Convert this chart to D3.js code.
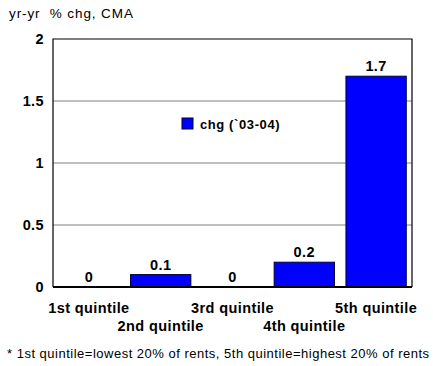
<!DOCTYPE html>
<html>
<head>
<meta charset="utf-8">
<script src="https://cdn.jsdelivr.net/npm/d3@7"></script>
<style>
  body { margin: 0; background: #fff; }
  svg { display: block; font-family: "Liberation Sans", Arial, sans-serif; }
  .bold { font-weight: bold; font-size: 14.5px; letter-spacing: 0.4px; }
  .plain { font-size: 13px; letter-spacing: 0.5px; }
</style>
</head>
<body>
<svg id="chart" width="433" height="366"></svg>
<script>
const categories = ["1st quintile", "2nd quintile", "3rd quintile", "4th quintile", "5th quintile"];
const values = [0, 0.1, 0, 0.2, 1.7];
const valueLabels = ["0", "0.1", "0", "0.2", "1.7"];
const yTicks = [0, 0.5, 1, 1.5, 2];
const yTickLabels = ["0", "0.5", "1", "1.5", "2"];
const seriesName = "chg (`03-04)";

const svg = d3.select("#chart");
const m = { left: 53, right: 412, top: 39, bottom: 287 };

const x = d3.scaleBand().domain(categories).range([m.left, m.right]).paddingInner(0.16).paddingOuter(0.08);
const y = d3.scaleLinear().domain([0, 2]).range([m.bottom, m.top]);

// title
svg.append("text").attr("x", 9).attr("y", 18).attr("fill", "#000")
  .attr("font-size", 13.5).attr("letter-spacing", 0.9)
  .style("white-space", "pre")
  .text("yr-yr  % chg, CMA");

// gridlines
svg.append("g").selectAll("line").data(yTicks.filter(d => d > 0 && d < 2)).join("line")
  .attr("x1", m.left).attr("x2", m.right)
  .attr("y1", d => y(d)).attr("y2", d => y(d))
  .attr("stroke", "#808080").attr("stroke-width", 1);

// y axis labels
const yAxis = d3.axisLeft(y).tickValues(yTicks).tickFormat((d, i) => yTickLabels[i]).tickSize(0).tickPadding(9);
const gy = svg.append("g").attr("transform", `translate(${m.left},0)`).call(yAxis)
  .attr("font-family", null).attr("font-size", null);
gy.select(".domain").remove();
gy.selectAll("text").attr("class", "bold").attr("font-weight", "bold").attr("fill", "#000");

// bars
svg.append("g").selectAll("rect").data(values).join("rect")
  .attr("x", (d, i) => x(categories[i]))
  .attr("width", x.bandwidth())
  .attr("y", d => y(d))
  .attr("height", d => y(0) - y(d))
  .attr("fill", "#0000ff")
  .attr("stroke", "#000033").attr("stroke-width", 1);

// value labels
svg.append("g").selectAll("text").data(values).join("text")
  .attr("class", "bold")
  .attr("x", (d, i) => x(categories[i]) + x.bandwidth() / 2)
  .attr("y", d => y(d) - 5)
  .attr("text-anchor", "middle")
  .text((d, i) => valueLabels[i]);

// frame
svg.append("path")
  .attr("d", `M${m.left},${m.bottom}V${m.top}H${m.right}V${m.bottom}`)
  .attr("fill", "none").attr("stroke", "#000").attr("stroke-width", 1.2);
svg.append("line").attr("x1", m.left).attr("x2", m.right).attr("y1", m.bottom).attr("y2", m.bottom)
  .attr("stroke", "#000").attr("stroke-width", 2);

// category labels, staggered over two rows
svg.append("g").selectAll("text").data(categories).join("text")
  .attr("class", "bold")
  .attr("x", d => x(d) + x.bandwidth() / 2)
  .attr("y", (d, i) => i % 2 === 0 ? 313 : 331)
  .attr("text-anchor", "middle")
  .text(d => d);

// legend
const lg = svg.append("g").attr("transform", "translate(182,118)");
lg.append("rect").attr("width", 11).attr("height", 11).attr("fill", "#0000ff").attr("stroke", "#000033");
lg.append("text").attr("x", 18).attr("y", 11).attr("font-size", 13).attr("letter-spacing", 0.6)
  .attr("font-weight", "bold").text(seriesName);

// footnote
svg.append("text").attr("class", "plain").attr("x", 7).attr("y", 358).attr("fill", "#000")
  .text("* 1st quintile=lowest 20% of rents, 5th quintile=highest 20% of rents");
</script>
</body>
</html>
